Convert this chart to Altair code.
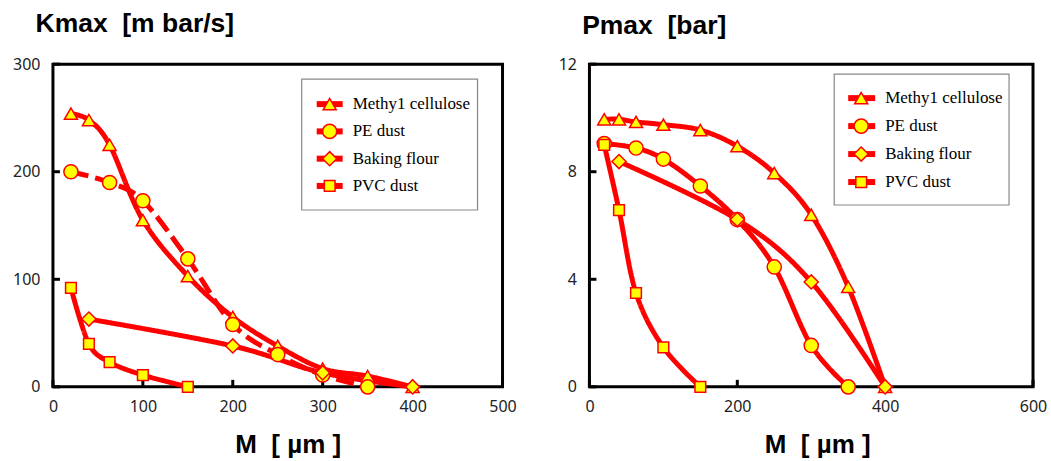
import altair as alt
import pandas as pd

SERIES = ["Methy1 cellulose", "PE dust", "Baking flour", "PVC dust"]
SHAPES = ["triangle-up", "circle", "diamond", "square"]

# Kmax panel
K_MC_X = [20, 40, 63, 100, 150, 200, 250, 300, 350, 400]
K_MC_Y = [254, 248, 225, 155, 103, 65, 38, 17, 10, 0]
K_PE_X = [20, 63, 100, 150, 200, 250, 300, 350]
K_PE_Y = [200, 190, 173, 119, 58, 30, 11, 0]
K_BF_X = [40, 200, 300, 400]
K_BF_Y = [63, 38, 13, 0]
K_PVC_X = [20, 40, 63, 100, 150]
K_PVC_Y = [92, 40, 23, 11, 0]
K_TICKS_X = [0, 100, 200, 300, 400, 500]
K_TICKS_Y = [0, 100, 200, 300]

# Pmax panel
P_MC_X = [20, 40, 63, 100, 150, 200, 250, 300, 350, 400]
P_MC_Y = [9.95, 9.95, 9.85, 9.75, 9.55, 8.95, 7.95, 6.4, 3.72, 0]
P_PE_X = [20, 63, 100, 150, 200, 250, 300, 350]
P_PE_Y = [9.05, 8.88, 8.47, 7.47, 6.22, 4.46, 1.54, 0]
P_BF_X = [40, 200, 300, 400]
P_BF_Y = [8.38, 6.22, 3.9, 0]
P_PVC_X = [20, 40, 63, 100, 150]
P_PVC_Y = [9.0, 6.57, 3.49, 1.47, 0]
P_TICKS_X = [0, 200, 400, 600]
P_TICKS_Y = [0, 4, 8, 12]

RED = "#FF0000"
YELLOW = "#FFFF00"
SIZES = [170, 200, 200, 115]


def long_df(xs_list, ys_list, dashed):
    rows = []
    for k, (name, xs, ys) in enumerate(zip(SERIES, xs_list, ys_list)):
        for x, y in zip(xs, ys):
            rows.append({"series": name, "x": x, "y": y, "sz": SIZES[k],
                         "dash": "dashed" if name in dashed else "solid"})
    return pd.DataFrame(rows)


def panel(df, xdom, ydom, xticks, yticks, title, title_dx, title_off, xt_shift, W, H, leg):
    shape_scale = alt.Scale(domain=SERIES, range=SHAPES)
    xs = alt.Scale(domain=xdom, nice=False, zero=False)
    ys = alt.Scale(domain=ydom, nice=False, zero=False)
    lab = dict(labelFont="Noto Sans", labelFontSize=16, labelColor="#222",
               ticks=False, grid=False, domain=False)
    xaxis = alt.Axis(values=xticks, title="M\u00a0\u00a0[ µm ]", labelFlush=False,
                     labelPadding=12, titleFont="Liberation Sans", titleFontSize=26,
                     titleFontWeight="bold", titleColor="black", titlePadding=17,
                     titleX=W / 2 + xt_shift, titleAlign="center", **lab)
    yaxis = alt.Axis(values=yticks, title=None, labelPadding=13, **lab)

    base = alt.Chart(df)
    lines = base.mark_line(interpolate="cardinal", strokeWidth=5, color=RED).encode(
        x=alt.X("x:Q", scale=xs, axis=xaxis),
        y=alt.Y("y:Q", scale=ys, axis=yaxis),
        detail="series:N",
        strokeDash=alt.StrokeDash("dash:N", scale=alt.Scale(domain=["solid", "dashed"], range=[[1, 0], [18, 7]]), legend=None),
    )
    pts = base.mark_point(filled=True, fill=YELLOW, stroke=RED, strokeWidth=1.5, opacity=1).encode(
        x=alt.X("x:Q", scale=xs, axis=None),
        y=alt.Y("y:Q", scale=ys, axis=None),
        shape=alt.Shape("series:N", scale=shape_scale, legend=None),
        size=alt.Size("sz:Q", scale=None, legend=None),
    )
    tx = alt.Chart(pd.DataFrame({"t": xticks})).mark_rule(color="black", strokeWidth=3).encode(
        x=alt.X("t:Q", scale=xs, axis=None), y=alt.value(H), y2=alt.value(H - 7))
    ty = alt.Chart(pd.DataFrame({"t": yticks})).mark_rule(color="black", strokeWidth=3).encode(
        y=alt.Y("t:Q", scale=ys, axis=None), x=alt.value(0), x2=alt.value(7))

    box = alt.Chart(pd.DataFrame({"a": [0]})).mark_rect(fill="white", stroke="#888", strokeWidth=1.2).encode(
        x=alt.value(leg["x0"]), x2=alt.value(leg["x1"]), y=alt.value(leg["y0"]), y2=alt.value(leg["y1"]))
    ldf = pd.DataFrame({"series": SERIES, "i": list(range(len(SERIES))), "sz": SIZES})
    lbase = alt.Chart(ldf).transform_calculate(py=f"{leg['r0']} + datum.i * {leg['dr']}")
    lline = lbase.mark_rule(color=RED, strokeWidth=6).encode(
        x=alt.value(leg["lx0"]), x2=alt.value(leg["lx1"]), y=alt.Y("py:Q", scale=None, axis=None))
    lpts = lbase.mark_point(filled=True, fill=YELLOW, stroke=RED, strokeWidth=1.5, opacity=1).encode(
        x=alt.value(leg["mx"]), y=alt.Y("py:Q", scale=None, axis=None),
        shape=alt.Shape("series:N", scale=shape_scale, legend=None),
        size=alt.Size("sz:Q", scale=None, legend=None))
    ltxt = lbase.mark_text(align="left", baseline="middle", font="Liberation Serif",
                           fontSize=17, color="black").encode(
        x=alt.value(leg["tx"]), y=alt.Y("py:Q", scale=None, axis=None), text="series:N")

    return alt.layer(lines, tx, ty, pts, box, lline, lpts, ltxt).resolve_scale(
        x="independent", y="independent"
    ).properties(
        width=W, height=H,
        title=alt.TitleParams(title, anchor="start", dx=title_dx, font="Liberation Sans",
                              fontSize=26.5, fontWeight="bold", color="black", offset=title_off),
    )


kdf = long_df([K_MC_X, K_PE_X, K_BF_X, K_PVC_X], [K_MC_Y, K_PE_Y, K_BF_Y, K_PVC_Y], ["PE dust"])
pdf = long_df([P_MC_X, P_PE_X, P_BF_X, P_PVC_X], [P_MC_Y, P_PE_Y, P_BF_Y, P_PVC_Y], [])

left = panel(kdf, [0, 500], [0, 300], K_TICKS_X, K_TICKS_Y, "Kmax\u00a0\u00a0[m bar/s]", 23, 19, 10, 450, 323,
             dict(x0=249, x1=425, y0=15, y1=146, r0=40, dr=27.3, lx0=264, lx1=290, mx=277, tx=300))
right = panel(pdf, [0, 600], [0, 12], P_TICKS_X, P_TICKS_Y, "Pmax\u00a0\u00a0[bar]", 24, 17, 6, 444, 323,
              dict(x0=245, x1=420, y0=10, y1=141, r0=34, dr=28, lx0=259, lx1=286, mx=272, tx=296))

chart = alt.hconcat(left, right, spacing=38).resolve_scale(strokeDash="independent").properties(
    padding={"left": 11, "top": 9, "right": 2, "bottom": 2},
    background="white",
).configure_view(stroke="black", strokeWidth=3)

chart.save("out.html", embed_options={"renderer": "svg", "actions": False})
